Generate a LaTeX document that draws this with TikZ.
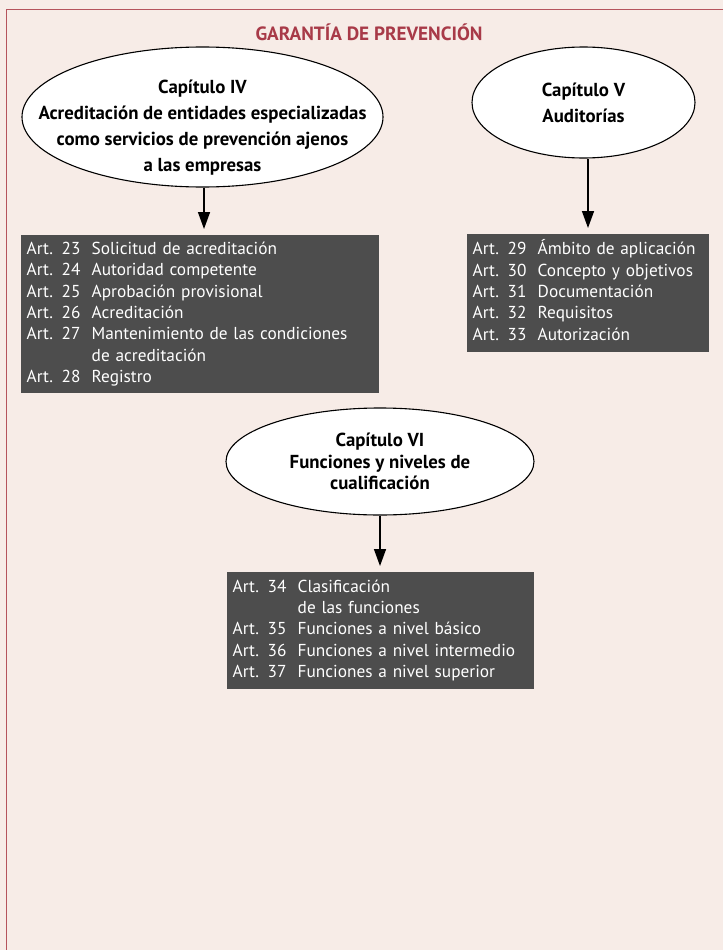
\documentclass[tikz,border=0pt]{standalone}
\usepackage{fontspec}
\setmainfont{PT Sans}
\usetikzlibrary{shapes.geometric, arrows.meta, positioning}
\definecolor{paper}{HTML}{F7ECE7}
\definecolor{framered}{HTML}{B5545C}
\definecolor{titlered}{HTML}{A83A48}
\definecolor{boxgray}{HTML}{4D4D4D}
\newcommand{\artlist}[1]{\begin{tabular}{@{}p{65pt}@{}l@{}}#1\end{tabular}} % #1: rows "Art. nn & title \\"

\begin{document}
\begin{tikzpicture}[x=1pt, y=-1pt,
  chapter/.style={draw, ellipse, fill=white, line width=1.1pt, inner sep=0pt},
  chaptertext/.style={align=center, font=\fontsize{18.8}{26}\selectfont\bfseries},
  artbox/.style={fill=boxgray, text=white, anchor=north west, inner xsep=5.5pt, inner ysep=0pt,
    font=\fontsize{17.3}{21.3}\selectfont},
  flow/.style={line width=1.5pt, -{Triangle[length=17pt,width=12pt]}, shorten >=6pt}]

% Background and frame
\fill[paper] (0,0) rectangle (723,950);
\useasboundingbox (0,0) rectangle (723,950);
\draw[framered, line width=1.5pt] (723,9.5) -- (6.5,9.5) -- (6.5,950);

% Title
\node[text=titlered, font=\fontsize{19.2}{22}\selectfont\bfseries] (title) at (369,32) {GARANTÍA DE PREVENCIÓN};

% Capitulo IV
\node[chapter, minimum width=361pt, minimum height=140pt] (cap4) at (202.5,117) {};
\node[chaptertext] (cap4txt) at (202.5,128) {Capítulo IV\\Acreditación de entidades especializadas\\como servicios de prevención ajenos\\a las empresas};
\node[artbox, minimum width=358pt, minimum height=158pt, text width=347pt] (arts4) at (21,235)
  {\artlist{Art. 23 & Solicitud de acreditación\\
  Art. 24 & Autoridad competente\\
  Art. 25 & Aprobación provisional\\
  Art. 26 & Acreditación\\
  Art. 27 & Mantenimiento de las condiciones\\
  & de acreditación\\
  Art. 28 & Registro}};

% Capitulo V
\node[chapter, chaptertext, minimum width=223pt, minimum height=111pt] (cap5) at (583.5,102.5) {Capítulo V\\Auditorías};
\node[artbox, minimum width=242pt, minimum height=118pt, text width=231pt] (arts5) at (467,234)
  {\artlist{Art. 29 & Ámbito de aplicación\\
  Art. 30 & Concepto y objetivos\\
  Art. 31 & Documentación\\
  Art. 32 & Requisitos\\
  Art. 33 & Autorización}};

% Capitulo VI
\node[chapter, chaptertext, font=\fontsize{18.8}{21.5}\selectfont\bfseries, minimum width=308pt, minimum height=107pt] (cap6) at (380,461.5) {Capítulo VI\\Funciones y niveles de\\cualificación};
\node[artbox, minimum width=307pt, minimum height=117pt, text width=296pt] (arts6) at (227,572)
  {\artlist{Art. 34 & Clasificación\\
  & de las funciones\\
  Art. 35 & Funciones a nivel básico\\
  Art. 36 & Funciones a nivel intermedio\\
  Art. 37 & Funciones a nivel superior}};

% Arrows
\draw[flow] ([xshift=1.5pt]cap4.south) -- ([xshift=1.5pt]cap4.south |- arts4.north);
\draw[flow] ([xshift=4.5pt]cap5.south) -- ([xshift=4.5pt]cap5.south |- arts5.north);
\draw[flow] (cap6.south) -- (cap6.south |- arts6.north);

\end{tikzpicture}
\end{document}
